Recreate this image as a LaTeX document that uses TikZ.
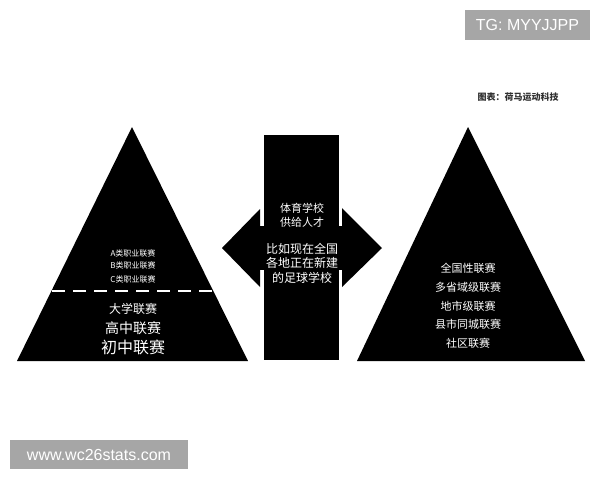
\documentclass[tikz,border=0pt]{standalone}
\usepackage{fontspec}
\setmainfont{Liberation Sans}
\newfontfamily\cjk{Noto Sans CJK SC}
\usetikzlibrary{positioning}
\definecolor{markgray}{HTML}{A6A6A6}
\definecolor{creditgray}{HTML}{303030}

\begin{document}
\begin{tikzpicture}[x=1pt, y=-1pt,
blackshape/.style={fill=black, draw=none},
whitetext/.style={text=white, inner sep=0pt, align=center, font=\cjk\fontsize{#1}{#1}\selectfont},
whitetext/.default=11,
markbox/.style={fill=markgray, text=white, inner sep=0pt, font=\fontsize{16}{16}\selectfont},
]
\useasboundingbox[fill=white] (0,0) rectangle (600,480);

%Shapes
\fill[blackshape] (132,127) -- (17,361) -- (248,361) -- cycle;
\fill[blackshape] (468,127) -- (357,361) -- (585,361) -- cycle;
\fill[blackshape] (222,248) -- (260,209) -- (260,287) -- cycle;
\fill[blackshape] (382,248) -- (342,208) -- (342,287) -- cycle;
\filldraw[fill=black, draw=white, line width=1.5pt] (263,134) rectangle (340,361);
\fill[blackshape] (255,226) rectangle (348,270);

%Dashed line
\coordinate (dashleft) at (52,291);
\coordinate (dashright) at (212,291);
\draw[white, line width=2pt, dash pattern=on 13pt off 8pt] (dashleft) -- (dashright);

%Nodes
\node[whitetext=8]  (leaguea)  at (133,253)             {A类职业联赛};
\node[whitetext=8]  (leagueb)  [below=5pt of leaguea]   {B类职业联赛};
\node[whitetext=8]  (leaguec)  [below=5.5pt of leagueb] {C类职业联赛};
\node[whitetext=12] (college)  at (133,309)             {大学联赛};
\node[whitetext=14] (highschool) at (133,328)           {高中联赛};
\node[whitetext=16] (middleschool) at (133,347)         {初中联赛};

\node[text=white, align=center, inner sep=0pt, font=\cjk\fontsize{11}{14}\selectfont]
      (sportschool) at (302,215) {体育学校\\供给人才};
\node[text=white, align=center, inner sep=0pt, font=\cjk\fontsize{12}{14.5}\selectfont]
      (footballschool) at (302,263) {比如现在全国\\各地正在新建\\的足球学校};

\node[text=white, align=center, inner sep=0pt, font=\cjk\fontsize{11}{18.7}\selectfont]
      (amateur) at (468,306) {全国性联赛\\多省域级联赛\\地市级联赛\\县市同城联赛\\社区联赛};

\node[text=creditgray, inner sep=0pt, font=\cjk\bfseries\fontsize{9}{9}\selectfont]
      (credit) at (518,97) {图表：荷马运动科技};

%Watermarks
\node[markbox, minimum width=125pt, minimum height=30pt] (tgmark) at (527.5,25) {TG: MYYJJPP};
\node[markbox, minimum width=178pt, minimum height=29pt] (sitemark) at (99,454.5) {www.wc26stats.com};

\end{tikzpicture}
\end{document}
